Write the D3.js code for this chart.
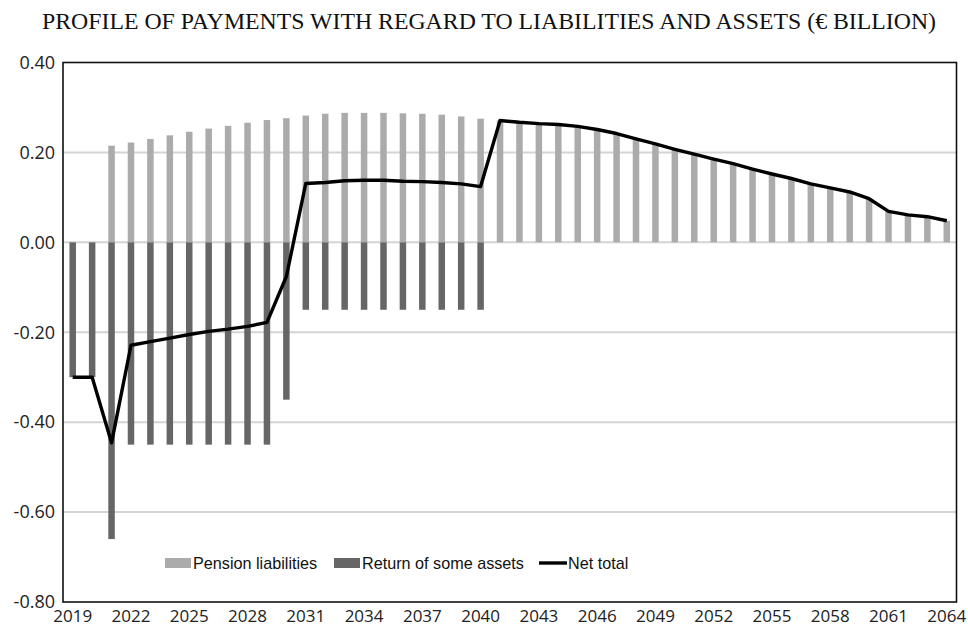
<!DOCTYPE html>
<html>
<head>
<meta charset="utf-8">
<script src="https://cdn.jsdelivr.net/npm/d3@7"></script>
<style>
  body { margin: 0; background: #fff; }
  svg { display: block; }
</style>
</head>
<body>
<div id="chart"></div>
<script>
// chart data
var years = d3.range(2019, 2065);
var tickYears = d3.range(2019, 2065, 3);
var yTicks = [0.4, 0.2, 0, -0.2, -0.4, -0.6, -0.8];

var pension = [0, 0, 0.215, 0.222, 0.230, 0.238, 0.246, 0.253, 0.259, 0.266,
    0.272, 0.276, 0.282, 0.286, 0.288, 0.288, 0.288, 0.287, 0.286, 0.284,
    0.280, 0.275, 0.271, 0.267, 0.264, 0.262, 0.258, 0.251, 0.242, 0.230,
    0.219, 0.207, 0.196, 0.185, 0.175, 0.163, 0.152, 0.142, 0.130, 0.121,
    0.112, 0.097, 0.069, 0.061, 0.057, 0.048];
var returns = [-0.30, -0.30, -0.66, -0.45, -0.45, -0.45, -0.45, -0.45, -0.45, -0.45,
    -0.45, -0.35, -0.15, -0.15, -0.15, -0.15, -0.15, -0.15, -0.15, -0.15,
    -0.15, -0.15];
var netTotal = [-0.30, -0.30, -0.446, -0.229, -0.221, -0.213, -0.205, -0.198, -0.193, -0.187,
    -0.178, -0.076, 0.131, 0.133, 0.137, 0.138, 0.138, 0.136, 0.135, 0.133,
    0.130, 0.124, 0.271, 0.267, 0.264, 0.262, 0.258, 0.251, 0.242, 0.230,
    0.219, 0.207, 0.196, 0.185, 0.175, 0.163, 0.152, 0.142, 0.130, 0.121,
    0.112, 0.097, 0.069, 0.061, 0.057, 0.048];

var seriesNames = ["Pension liabilities", "Return of some assets", "Net total"];
var colors = {pension: "#ababab", returns: "#666666", line: "#000"};

var W = 968, H = 629;
var margin = {top: 62.5, right: 11.5, bottom: 27, left: 63};
var width = W - margin.left - margin.right,
    height = H - margin.top - margin.bottom;

var svg = d3.select("#chart").append("svg")
    .attr("width", W)
    .attr("height", H);

// title
svg.append("text")
    .attr("x", 42)
    .attr("y", 29)
    .attr("textLength", 894)
    .attr("lengthAdjust", "spacingAndGlyphs")
    .style("font-family", "'Liberation Serif', 'Times New Roman', serif")
    .style("font-size", "23.5px")
    .style("fill", "#111")
    .text("PROFILE OF PAYMENTS WITH REGARD TO LIABILITIES AND ASSETS (\u20ac BILLION)");

var g = svg.append("g")
    .attr("transform", "translate(" + margin.left + "," + margin.top + ")");

var xScale = d3.scaleBand()
    .domain(years)
    .range([0, width])
    .padding(0);

var yScale = d3.scaleLinear()
    .domain([-0.8, 0.4])
    .range([height, 0]);

var barW = 6.5;

// gridlines
g.append("g")
    .selectAll("line")
    .data(yTicks.filter(function(d) { return d < 0.4 && d > -0.8; }))
    .enter()
    .append("line")
        .attr("x1", 0)
        .attr("x2", width)
        .attr("y1", function(d) { return yScale(d); })
        .attr("y2", function(d) { return yScale(d); })
        .style("stroke", "#d4d4d4")
        .style("stroke-width", 2);

// pension bars
g.append("g")
    .selectAll("rect")
    .data(years.map(function(y, i) { return {year: y, v: pension[i]}; }).filter(function(d) { return d.v > 0; }))
    .enter()
    .append("rect")
        .attr("x", function(d) { return xScale(d.year) + xScale.bandwidth() / 2 - barW / 2; })
        .attr("y", function(d) { return yScale(d.v); })
        .attr("width", barW)
        .attr("height", function(d) { return yScale(0) - yScale(d.v); })
        .style("fill", colors.pension);

// return bars
g.append("g")
    .selectAll("rect")
    .data(returns.map(function(v, i) { return {year: years[i], v: v}; }))
    .enter()
    .append("rect")
        .attr("x", function(d) { return xScale(d.year) + xScale.bandwidth() / 2 - barW / 2; })
        .attr("y", yScale(0))
        .attr("width", barW)
        .attr("height", function(d) { return yScale(d.v) - yScale(0); })
        .style("fill", colors.returns);

// net total line
var line = d3.line()
    .x(function(d, i) { return xScale(years[i]) + xScale.bandwidth() / 2; })
    .y(function(d) { return yScale(d); });

g.append("path")
    .datum(netTotal)
    .attr("d", line)
    .style("fill", "none")
    .style("stroke", colors.line)
    .style("stroke-width", 3.4)
    .style("stroke-linejoin", "round");

// frame
g.append("rect")
    .attr("x", 0)
    .attr("y", 0)
    .attr("width", width)
    .attr("height", height)
    .style("fill", "none")
    .style("stroke", "#111")
    .style("stroke-width", 1.6);

// y axis labels (plain hyphen for negatives, like the original)
var yAxis = g.append("g")
    .call(d3.axisLeft(yScale)
        .tickValues(yTicks)
        .tickFormat(function(d) { return d.toFixed(2); })
        .tickSize(0)
        .tickPadding(8));
yAxis.select(".domain").remove();
yAxis.selectAll("text")
    .style("font-family", "'Open Sans', sans-serif")
    .style("font-size", "18px")
    .style("fill", "#222");

// x axis labels
var xAxis = g.append("g")
    .attr("transform", "translate(0," + height + ")")
    .call(d3.axisBottom(xScale).tickValues(tickYears).tickSize(0).tickPadding(8));
xAxis.select(".domain").remove();
xAxis.selectAll("text")
    .style("font-family", "'Open Sans', sans-serif")
    .style("font-size", "17px")
    .style("fill", "#222");

// legend
var legendY = 563;
var legendItems = [
    {name: seriesNames[0], x: 165, type: "rect", color: colors.pension},
    {name: seriesNames[1], x: 334, type: "rect", color: colors.returns},
    {name: seriesNames[2], x: 539, type: "line", color: colors.line}
];
var legend = svg.append("g")
    .selectAll("g")
    .data(legendItems)
    .enter()
    .append("g")
        .attr("transform", function(d) { return "translate(" + d.x + "," + legendY + ")"; });

legend.filter(function(d) { return d.type === "rect"; })
    .append("rect")
        .attr("x", 0)
        .attr("y", -5)
        .attr("width", 26)
        .attr("height", 10)
        .style("fill", function(d) { return d.color; });

legend.filter(function(d) { return d.type === "line"; })
    .append("line")
        .attr("x1", 0)
        .attr("x2", 28)
        .attr("y1", 0)
        .attr("y2", 0)
        .style("stroke", function(d) { return d.color; })
        .style("stroke-width", 3.4);

legend.append("text")
    .attr("x", function(d) { return d.type === "line" ? 29 : 28; })
    .attr("y", 0)
    .attr("dy", "0.35em")
    .style("font-family", "'Liberation Sans', Arial, sans-serif")
    .style("font-size", "16.2px")
    .style("fill", "#111")
    .text(function(d) { return d.name; });
</script>
</body>
</html>
